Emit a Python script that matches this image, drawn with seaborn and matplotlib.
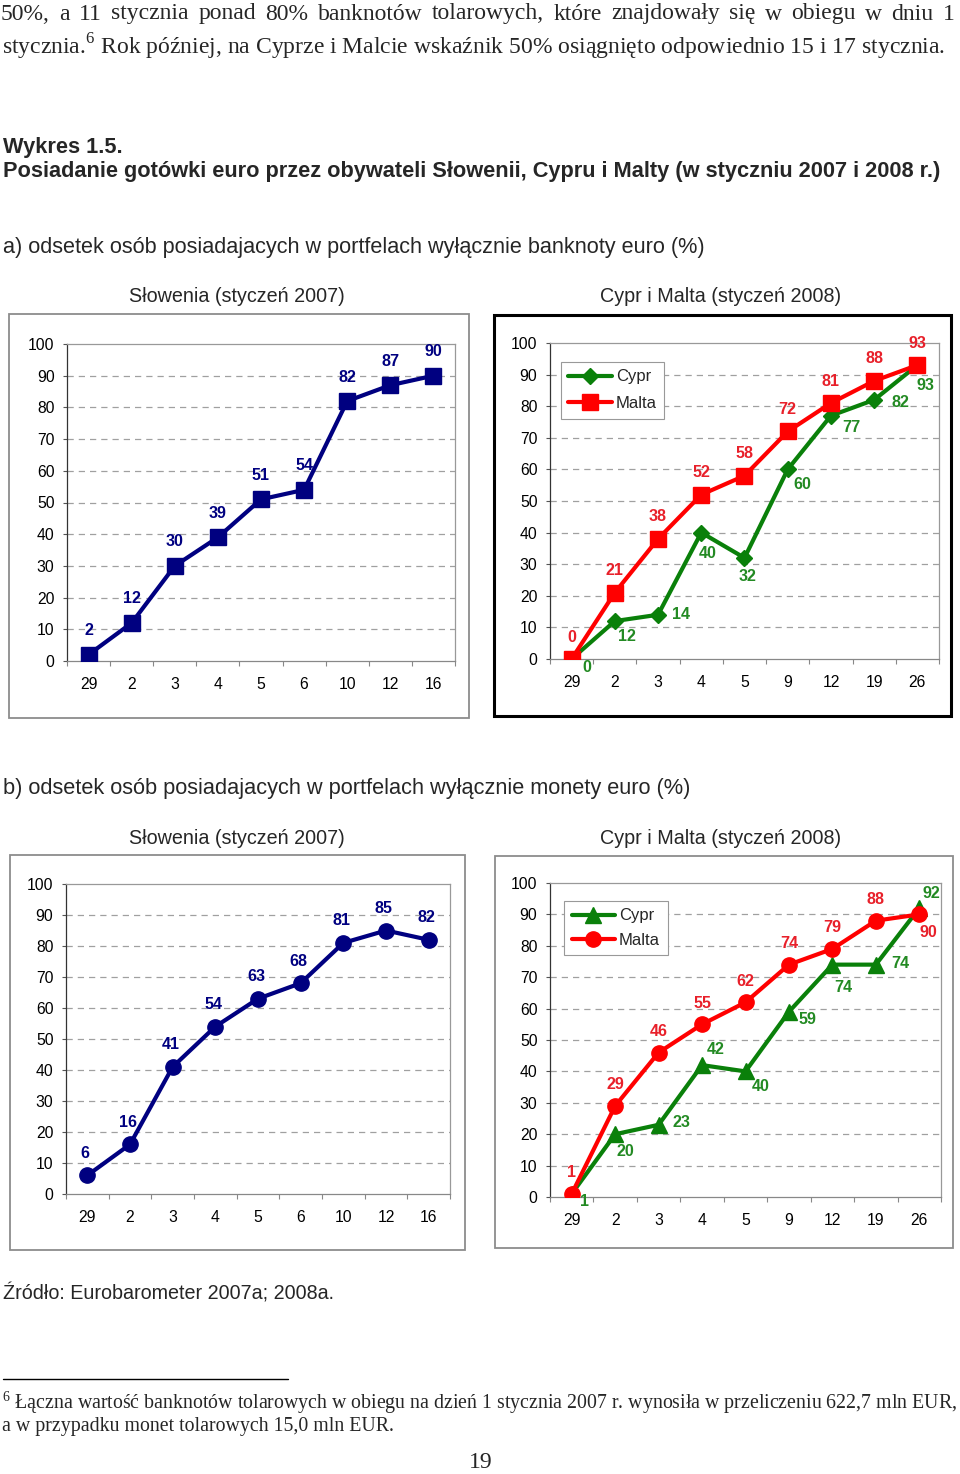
import numpy as np
import pandas as pd
import matplotlib
matplotlib.use("Agg")
import matplotlib.pyplot as plt
import seaborn as sns
from matplotlib.patches import Rectangle
from matplotlib.lines import Line2D
from matplotlib.ticker import FixedLocator

# --- data ---
days_slo = ["29", "2", "3", "4", "5", "6", "10", "12", "16"]
days_cym = ["29", "2", "3", "4", "5", "9", "12", "19", "26"]

slo_notes = [2, 12, 30, 39, 51, 54, 82, 87, 90]
cy_notes = [0, 12, 14, 40, 32, 60, 77, 82, 93]
mt_notes = [0, 21, 38, 52, 58, 72, 81, 88, 93]

slo_coins = [6, 16, 41, 54, 63, 68, 81, 85, 82]
cy_coins = [1, 20, 23, 42, 40, 59, 74, 74, 92]
mt_coins = [1, 29, 46, 55, 62, 74, 79, 88, 90]

# label offsets in pixels (layout only)
above = [(0, 22)] * 9
cy_notes_off = [(15, -8), (12, -15), (23, 0), (6, -21), (3, -19), (15, -15), (20, -12), (26, -3), (8, -20)]
cy_coins_off = [(13, -8), (10, -17), (23, 2), (14, 16), (15, -15), (19, -8), (11, -23), (24, 1), (12, 15)]
mt_coins_off = [(0, 21)] * 8 + [(9, -18)]

NAVY = "#000080"
GREEN = "#0a800a"
GREEN_TXT = "#238a23"
RED = "#ff0000"
RED_TXT = "#e8202a"

sns.set_theme(style="white")
plt.rcParams["font.family"] = ["Liberation Sans", "DejaVu Sans"]
plt.rcParams["mathtext.fontset"] = "custom"
plt.rcParams["mathtext.rm"] = "Liberation Serif"

W, H = 960, 1474
fig = plt.figure(figsize=(W / 100, H / 100), dpi=100)
fig.patch.set_facecolor("white")


def fx(px):
    return px / W


def fy(py):
    return 1 - py / H


def frame(l, t, r, b, color, lw):
    fig.add_artist(Rectangle((fx(l), fy(b)), (r - l) / W, (b - t) / H,
                             transform=fig.transFigure, fill=False,
                             edgecolor=color, lw=lw))


def panel(l, t, r, b, days):
    ax = fig.add_axes([fx(l), fy(b), (r - l) / W, (b - t) / H])
    ax.set_xlim(-0.5, len(days) - 0.5)
    ax.set_ylim(0, 100)
    ax.set_yticks(range(0, 101, 10))
    ax.set_xticks(range(len(days)))
    ax.set_xticklabels(days)
    ax.xaxis.set_minor_locator(FixedLocator(np.arange(-0.5, len(days), 1)))
    ax.tick_params(axis="x", which="major", bottom=True, length=0, pad=11.5,
                   labelsize=11.3, labelcolor="black")
    ax.tick_params(axis="x", which="minor", bottom=True, length=3.8, width=0.8,
                   color="#888888", direction="out")
    ax.tick_params(axis="y", left=True, length=3, width=0.8, color="#555555",
                   pad=6, labelsize=11.3, labelcolor="black")
    for v in range(10, 100, 10):
        ax.axhline(v, color="#a0a0a0", lw=0.9, ls=(0, (5, 4)), zorder=0)
    ax.spines["left"].set_color("#333333")
    ax.spines["bottom"].set_color("#888888")
    for s in ("top", "right"):
        ax.spines[s].set_color("#999999")
    for s in ax.spines.values():
        s.set_linewidth(0.9)
    return ax


def draw(ax, values, color, marker, ms):
    df = pd.DataFrame({"pos": range(len(values)), "val": values})
    sns.lineplot(data=df, x="pos", y="val", ax=ax, color=color, lw=3,
                 marker=marker, markersize=ms, markeredgecolor=color,
                 markeredgewidth=1, zorder=3)
    ax.set_xlabel("")
    ax.set_ylabel("")


def labels(ax, values, offsets, color):
    for i, (v, (dx, dy)) in enumerate(zip(values, offsets)):
        ax.annotate(str(v), (i, v), xytext=(dx, dy), textcoords="offset pixels",
                    ha="center", va="center", fontsize=11.6, fontweight="bold",
                    color=color, zorder=5)


def legend(ax, handles, anchor, spacing):
    leg = ax.legend(handles=handles, loc="upper left", bbox_to_anchor=anchor,
                    borderaxespad=0, frameon=True, fancybox=False,
                    edgecolor="#999999", framealpha=1, fontsize=12,
                    handlelength=2.6, handletextpad=0.25,
                    labelspacing=spacing, borderpad=0.45)
    leg.get_frame().set_linewidth(0.8)


# --- frames around the charts ---
frame(9, 314, 469, 718, "#8c8c8c", 1.3)
frame(494, 315, 951, 716, "black", 2.2)
frame(10, 855, 465, 1250, "#8c8c8c", 1.3)
frame(495, 856, 953, 1248, "#8c8c8c", 1.3)

# a) banknotes
ax1 = panel(67, 344, 455, 661, days_slo)
draw(ax1, slo_notes, NAVY, "s", 11)
labels(ax1, slo_notes, [(0, 24)] * 9, NAVY)

ax2 = panel(550, 343, 939, 659, days_cym)
draw(ax2, cy_notes, GREEN, "D", 8)
draw(ax2, mt_notes, RED, "s", 11)
labels(ax2, cy_notes, cy_notes_off, GREEN_TXT)
labels(ax2, mt_notes, above, RED_TXT)
legend(ax2, [Line2D([], [], color=GREEN, lw=3, marker="D", ms=8, label="Cypr"),
             Line2D([], [], color=RED, lw=3, marker="s", ms=11, label="Malta")],
       (0.028, 0.94), 0.7)

# b) coins
ax3 = panel(66, 884, 450, 1194, days_slo)
draw(ax3, slo_coins, NAVY, "o", 11)
labels(ax3, slo_coins, [(-2, 22)] * 9, NAVY)

ax4 = panel(550, 883, 941, 1197, days_cym)
draw(ax4, cy_coins, GREEN, "^", 12)
draw(ax4, mt_coins, RED, "o", 11)
labels(ax4, cy_coins, cy_coins_off, GREEN_TXT)
labels(ax4, mt_coins, mt_coins_off, RED_TXT)
legend(ax4, [Line2D([], [], color=GREEN, lw=3, marker="^", ms=12, label="Cypr"),
             Line2D([], [], color=RED, lw=3, marker="o", ms=11, label="Malta")],
       (0.036, 0.943), 0.55)

# --- page text ---
renderer = fig.canvas.get_renderer()
serif = ["Liberation Serif", "DejaVu Serif"]


def fit(t, width):
    bb = t.get_window_extent(renderer)
    t.set_fontsize(t.get_fontsize() * width / bb.width)
    return t.get_fontsize()


def justify(x0, x1, y, line, size):
    # spread the words of a justified line between x0 and x1
    words = line.split(" ")
    items = [fig.text(0, fy(y), w, family=serif, va="center", fontsize=size) for w in words]
    widths = [t.get_window_extent(renderer).width for t in items]
    gap = (x1 - x0 - sum(widths)) / (len(words) - 1)
    x = x0
    for t, w in zip(items, widths):
        t.set_x(fx(x))
        x += w + gap


t2 = fig.text(fx(2), fy(47), r"stycznia.$^{\mathrm{6}}$ Rok później, na Cyprze i Malcie wskaźnik 50% osiągnięto odpowiednio 15 i 17 stycznia.",
              family=serif, va="center", fontsize=15)
body = fit(t2, 948)
justify(1, 955, 14, "50%, a 11 stycznia ponad 80% banknotów tolarowych, które znajdowały się w obiegu w dniu 1", body)

hb = fig.text(fx(3), fy(172), "Posiadanie gotówki euro przez obywateli Słowenii, Cypru i Malty (w styczniu 2007 i 2008 r.)",
              fontweight="bold", va="center", fontsize=14)
bsize = fit(hb, 939)
fig.text(fx(3), fy(147), "Wykres 1.5.", fontweight="bold", va="center", fontsize=bsize)

ta = fig.text(fx(3), fy(247), "a) odsetek osób posiadajacych w portfelach wyłącznie banknoty euro (%)",
              va="center", fontsize=14)
ssize = fit(ta, 707)
tb = fig.text(fx(3), fy(789), "b) odsetek osób posiadajacych w portfelach wyłącznie monety euro (%)",
              va="center", fontsize=ssize)
fit(tb, 689)

ts = fig.text(fx(237), fy(297), "Słowenia (styczeń 2007)", ha="center", va="center", fontsize=13)
tsize = fit(ts, 215)
fig.text(fx(721), fy(297), "Cypr i Malta (styczeń 2008)", ha="center", va="center", fontsize=tsize)
fig.text(fx(237), fy(838), "Słowenia (styczeń 2007)", ha="center", va="center", fontsize=tsize)
fig.text(fx(721), fy(838), "Cypr i Malta (styczeń 2008)", ha="center", va="center", fontsize=tsize)
tz = fig.text(fx(3), fy(1294), "Źródło: Eurobarometer 2007a; 2008a.", va="center", fontsize=13)
fit(tz, 330)

fig.add_artist(Line2D([fx(3), fx(288)], [fy(1379), fy(1379)], color="black", lw=1,
                      transform=fig.transFigure))
f1 = fig.text(fx(2), fy(1403), r"$^{\mathrm{6}}$ Łączna wartość banknotów tolarowych w obiegu na dzień 1 stycznia 2007 r. wynosiła w przeliczeniu 622,7 mln EUR,",
              family=serif, va="center", fontsize=13)
fsize = fit(f1, 953)
fig.text(fx(2), fy(1426), "a w przypadku monet tolarowych 15,0 mln EUR.",
         family=serif, va="center", fontsize=fsize)
fig.text(fx(481), fy(1463), "19", family=serif, ha="center", va="center", fontsize=body)

fig.savefig("out.png", dpi=100)
